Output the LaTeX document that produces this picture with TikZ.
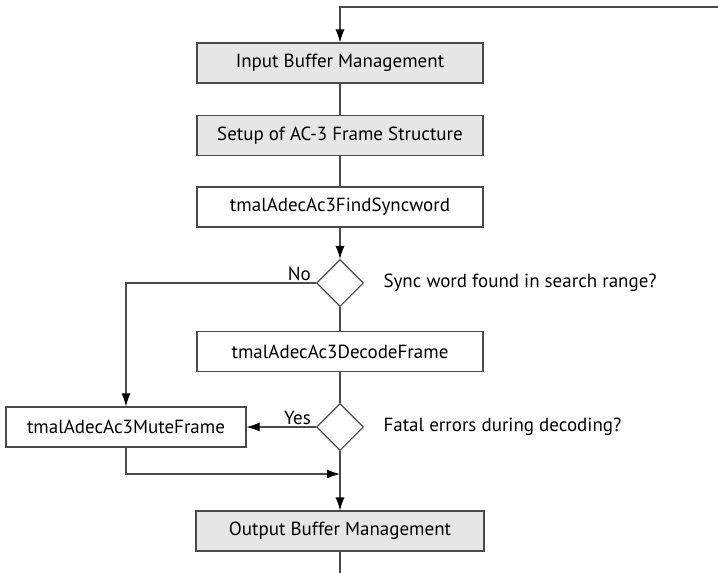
\documentclass[tikz,border=0pt]{standalone}
\usepackage{fontspec}
\setmainfont{PT Sans}
\usetikzlibrary{shapes.geometric,arrows.meta}
\definecolor{boxfill}{HTML}{E6E6E6}
\definecolor{linegray}{HTML}{4A4A4A}
\begin{document}
\begin{tikzpicture}[x=1pt,y=-1pt,
  font=\fontsize{19}{22}\selectfont,
  every node/.style={text=black},
  proc/.style={draw=linegray, line width=1.1pt, minimum height=40pt, inner sep=0pt},
  grayproc/.style={proc, fill=boxfill},
  decision/.style={draw=linegray, line width=1.1pt, diamond, minimum width=47pt, minimum height=47pt, inner sep=0pt},
  flow/.style={draw=linegray, line width=1.1pt},
  arr/.style={flow, -{Latex[length=13pt,width=9pt,color=black]}}]
\useasboundingbox (0,0) rectangle (718,573);

\node[grayproc, minimum width=286pt] (inbuf) at (340,63) {Input Buffer Management};
\node[grayproc, minimum width=286pt] (setup) at (340,135.5) {Setup of AC-3 Frame Structure};
\node[proc, minimum width=286pt] (find) at (340,207) {tmalAdecAc3FindSyncword};
\node[decision] (sync) at (340,283) {};
\node[anchor=west] (synclbl) at (380,283) {Sync word found in search range?};
\node[proc, minimum width=286pt] (decode) at (340,351.5) {tmalAdecAc3DecodeFrame};
\node[decision] (fatal) at (340,427) {};
\node[anchor=west] (fatallbl) at (380,427) {Fatal errors during decoding?};
\node[proc, minimum width=240pt] (mute) at (126,427) {tmalAdecAc3MuteFrame};
\node[grayproc, minimum width=288pt] (outbuf) at (340,531) {Output Buffer Management};

\coordinate (looptop) at (340,7);
\coordinate (loopright) at (718,7);
\coordinate (bottomend) at (340,573);
\coordinate (merge) at (340,474);

% main vertical path
\draw[arr] (loopright) -- (looptop) -- (inbuf.north);
\draw[flow] (inbuf.south) -- (setup.north);
\draw[flow] (setup.south) -- (find.north);
\draw[arr] (find.south) -- (sync.north);
\draw[flow] (sync.south) -- (decode.north);
\draw[flow] (decode.south) -- (fatal.north);
\draw[arr] (fatal.south) -- (outbuf.north);
\draw[flow] (outbuf.south) -- (bottomend);

% branches to the mute step
\draw[arr] (sync.west) -| (mute.north);
\node[anchor=south east, inner sep=2pt] (nolbl) at ([xshift=-3pt]sync.west) {No};
\draw[arr] (fatal.west) -- (mute.east);
\node[anchor=south east, inner sep=2pt] (yeslbl) at ([xshift=-3pt]fatal.west) {Yes};
\draw[arr] (mute.south) |- (merge);
\end{tikzpicture}
\end{document}
